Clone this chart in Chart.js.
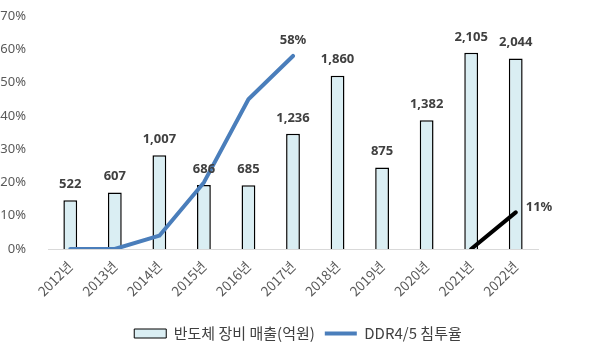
<!DOCTYPE html>
<html><head><meta charset="utf-8">
<script src="https://cdn.jsdelivr.net/npm/chart.js@4.4.1/dist/chart.umd.min.js"></script>
<style>html,body{margin:0;padding:0;background:#fff}#wrap{width:596px;height:357px}</style>
</head><body><div id="wrap"><canvas id="c" width="596" height="357"></canvas></div>
<script>
const categories = ['2012년','2013년','2014년','2015년','2016년','2017년','2018년','2019년','2020년','2021년','2022년'];
const salesValues = [522,607,1007,686,685,1236,1860,875,1382,2105,2044];
const ddrRate = [0,0,4,20,45,58,null,null,null,null,null];
const ddrRateNew = [null,null,null,null,null,null,null,null,null,0,11];
const yTickValues = [0,10,20,30,40,50,60,70];
const salesLabel = '반도체 장비 매출(억원)';
const ddrLabel = 'DDR4/5 침투율';
const lineLabelIdx = {1: [5], 2: [10]};

const labelPlugin = {
  id: 'valueLabels',
  afterDatasetsDraw(chart) {
    const ctx = chart.ctx;
    ctx.save();
    ctx.font = 'bold 13px "Noto Sans", "Liberation Sans", sans-serif';
    ctx.fillStyle = '#404040';
    ctx.textBaseline = 'middle';
    const barMeta = chart.getDatasetMeta(0);
    barMeta.data.forEach((el, i) => {
      ctx.textAlign = 'center';
      ctx.fillText(salesValues[i].toLocaleString('en-US'), el.x, el.y - 16);
    });
    const m1 = chart.getDatasetMeta(1);
    lineLabelIdx[1].forEach(i => {
      const p = m1.data[i];
      ctx.textAlign = 'center';
      ctx.fillText(ddrRate[i] + '%', p.x, p.y - 16);
    });
    const m2 = chart.getDatasetMeta(2);
    lineLabelIdx[2].forEach(i => {
      const p = m2.data[i];
      ctx.textAlign = 'left';
      ctx.fillText(ddrRateNew[i] + '%', p.x + 10, p.y - 5);
    });
    ctx.restore();
  }
};

new Chart(document.getElementById('c'), {
  type: 'bar',
  data: {
    labels: categories,
    datasets: [
      { type: 'bar', label: salesLabel, data: salesValues, yAxisID: 'y2',
        backgroundColor: '#DAEEF3', borderColor: '#000', borderWidth: 1.5,
        barPercentage: 0.31, categoryPercentage: 1, order: 2 },
      { type: 'line', label: ddrLabel, data: ddrRate, yAxisID: 'y',
        borderColor: '#4a7ebb', borderWidth: 4, pointRadius: 0, tension: 0,
        borderCapStyle: 'round', borderJoinStyle: 'round', spanGaps: false, order: 1 },
      { type: 'line', label: 'new', data: ddrRateNew, yAxisID: 'y',
        borderColor: '#000', borderWidth: 4, pointRadius: 0, tension: 0,
        borderCapStyle: 'round', order: 0 }
    ]
  },
  options: {
    responsive: false, animation: false,
    layout: { padding: { top: 16, right: 0, bottom: 6, left: 0 } },
    plugins: {
      tooltip: { enabled: false },
      legend: {
        position: 'bottom',
        labels: {
          usePointStyle: true, pointStyleWidth: 32, boxHeight: 9, padding: 10,
          color: '#404040',
          font: { family: '"Noto Sans CJK KR", sans-serif', size: 15 },
          generateLabels: () => [
            { text: salesLabel, pointStyle: 'rect', fillStyle: '#DAEEF3', strokeStyle: '#000', lineWidth: 1, datasetIndex: 0, fontColor: '#404040' },
            { text: ddrLabel, pointStyle: 'line', fillStyle: '#4a7ebb', strokeStyle: '#4a7ebb', lineWidth: 4, datasetIndex: 1, fontColor: '#404040' }
          ]
        }
      }
    },
    scales: {
      x: {
        grid: { display: false },
        border: { display: true, color: '#d9d9d9', width: 1 },
        ticks: { color: '#595959', maxRotation: 45, minRotation: 45, padding: 1,
          font: { family: '"Noto Sans CJK KR", sans-serif', size: 13.5 } },
        afterFit: s => { s.height = 67; }
      },
      y: {
        position: 'left', min: 0, max: 70,
        grid: { display: false },
        border: { display: false },
        afterBuildTicks: s => { s.ticks = yTickValues.map(v => ({ value: v })); },
        ticks: { color: '#595959', padding: 14, callback: v => v + '%',
          font: { family: '"Noto Sans", sans-serif', size: 13 } },
        afterFit: s => { s.width = 48; s.paddingTop = 8; s.paddingBottom = 8; }
      },
      y2: {
        position: 'right', display: true, min: 0, max: 2500,
        grid: { display: false }, border: { display: false },
        ticks: { display: false },
        afterFit: s => { s.width = 58; s.paddingTop = 0; s.paddingBottom = 0; }
      }
    }
  },
  plugins: [labelPlugin]
});
</script></body></html>
